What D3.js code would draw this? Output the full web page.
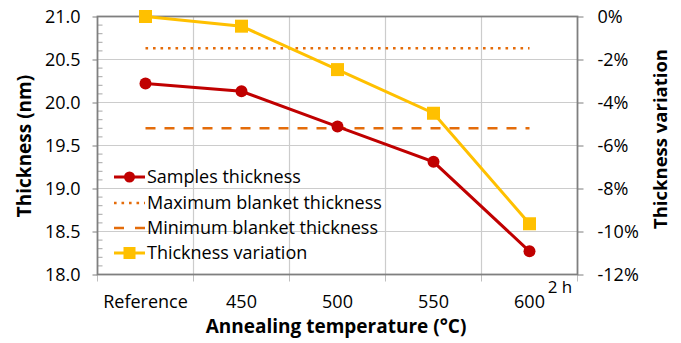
<!DOCTYPE html>
<html><head><meta charset="utf-8">
<script src="https://cdn.jsdelivr.net/npm/d3@7"></script>
<style>body{margin:0;background:#fff}svg{display:block}text{font-family:"Open Sans",sans-serif;fill:#000}</style>
</head><body>
<svg id="c" width="681" height="343"></svg>
<script>
const categories = ["Reference", "450", "500", "550", "600"];
const samplesThickness = [20.22, 20.13, 19.72, 19.31, 18.27];
const maxBlanket = 20.63;
const minBlanket = 19.70;
const thicknessVariation = [0, -0.45, -2.47, -4.50, -9.64];
const leftTicks = [18.0, 18.5, 19.0, 19.5, 20.0, 20.5, 21.0];
const rightTicks = [-12, -10, -8, -6, -4, -2, 0];
const legendLabels = ["Samples thickness", "Maximum blanket thickness", "Minimum blanket thickness", "Thickness variation"];

const svg = d3.select("#c");
const L = 97.5, R = 577.5, T = 16.5, B = 274.5;
const x = d3.scaleBand().domain(categories).range([L, R]).padding(0);
const yL = d3.scaleLinear().domain([18, 21]).range([B, T]);
const yR = d3.scaleLinear().domain([-12, 0]).range([B, T]);
const cx = d => x(d) + x.bandwidth() / 2;

const red = "#C00000", yellow = "#FFC000", orange = "#E46C0A";
const grid = "#cccccc", frame = "#7f7f7f";

// horizontal gridlines
svg.append("g").selectAll("line").data(leftTicks.slice(1, -1)).join("line")
  .attr("x1", L).attr("x2", R).attr("y1", d => yL(d)).attr("y2", d => yL(d))
  .attr("stroke", grid).attr("stroke-width", 1.2);
// vertical gridlines at band boundaries
svg.append("g").selectAll("line").data(categories.slice(1)).join("line")
  .attr("x1", d => x(d)).attr("x2", d => x(d)).attr("y1", T).attr("y2", B)
  .attr("stroke", grid).attr("stroke-width", 1.2);

// left axis
const gL = svg.append("g").attr("transform", `translate(${L},0)`)
  .call(d3.axisLeft(yL).tickValues(leftTicks).tickFormat(d3.format(".1f")).tickSize(5).tickPadding(12));
gL.select(".domain").remove();
gL.selectAll("line").attr("stroke", frame);
gL.selectAll("text").style("font-size", "18px").attr("fill", "#222");
// minor inward ticks
const minor = d3.range(181, 210).map(v => v / 10).filter(v => Math.abs(v * 2 - Math.round(v * 2)) > 1e-6);
svg.append("g").selectAll("line").data(minor).join("line")
  .attr("x1", L).attr("x2", L + 5).attr("y1", d => yL(d)).attr("y2", d => yL(d))
  .attr("stroke", "#a6a6a6").attr("stroke-width", 1);

// right axis
const gR = svg.append("g").attr("transform", `translate(${R},0)`)
  .call(d3.axisRight(yR).tickValues(rightTicks).tickFormat(d => d + "%").tickSize(6).tickPadding(14));
gR.select(".domain").remove();
gR.selectAll("line").attr("stroke", frame);
gR.selectAll("text").style("font-size", "18px").attr("fill", "#222");

// bottom axis
const gB = svg.append("g").attr("transform", `translate(0,${B})`)
  .call(d3.axisBottom(x).tickSize(0).tickPadding(21));
gB.select(".domain").remove();
gB.selectAll("text").style("font-size", "18px").attr("fill", "#222");
svg.append("g").selectAll("line").data(categories.concat(["_end"])).join("line")
  .attr("x1", d => d === "_end" ? R : x(d)).attr("x2", d => d === "_end" ? R : x(d))
  .attr("y1", B).attr("y2", B + 7).attr("stroke", "#bfbfbf").attr("stroke-width", 1);

// frame
svg.append("rect").attr("x", L).attr("y", T).attr("width", R - L).attr("height", B - T)
  .attr("fill", "none").attr("stroke", frame).attr("stroke-width", 1.8);

// blanket lines
const xs = [cx(categories[0]), cx(categories[categories.length - 1])];
svg.append("line").attr("x1", xs[0]).attr("x2", xs[1]).attr("y1", yL(maxBlanket)).attr("y2", yL(maxBlanket))
  .attr("stroke", orange).attr("stroke-width", 2.6).attr("stroke-dasharray", "2.6 4.9");
svg.append("line").attr("x1", xs[0]).attr("x2", xs[1]).attr("y1", yL(minBlanket)).attr("y2", yL(minBlanket))
  .attr("stroke", orange).attr("stroke-width", 2.6).attr("stroke-dasharray", "10 9");

// variation series
const lineV = d3.line().x((d, i) => cx(categories[i])).y(d => yR(d));
svg.append("path").datum(thicknessVariation).attr("d", lineV).attr("fill", "none")
  .attr("stroke", yellow).attr("stroke-width", 3);
svg.append("g").selectAll("rect").data(thicknessVariation).join("rect")
  .attr("x", (d, i) => cx(categories[i]) - 6.5).attr("y", d => yR(d) - 6.5)
  .attr("width", 13).attr("height", 13).attr("fill", yellow);

// samples series
const lineS = d3.line().x((d, i) => cx(categories[i])).y(d => yL(d));
svg.append("path").datum(samplesThickness).attr("d", lineS).attr("fill", "none")
  .attr("stroke", red).attr("stroke-width", 3);
svg.append("g").selectAll("circle").data(samplesThickness).join("circle")
  .attr("cx", (d, i) => cx(categories[i])).attr("cy", d => yL(d)).attr("r", 6).attr("fill", red);

// legend
const lg = svg.append("g");
const ly = [177, 203, 228, 253];
const lx1 = 114, lx2 = 145;
lg.append("line").attr("x1", lx1).attr("x2", lx2).attr("y1", ly[0]).attr("y2", ly[0]).attr("stroke", red).attr("stroke-width", 3);
lg.append("circle").attr("cx", (lx1 + lx2) / 2).attr("cy", ly[0]).attr("r", 5.5).attr("fill", red);
lg.append("line").attr("x1", lx1).attr("x2", lx2).attr("y1", ly[1]).attr("y2", ly[1]).attr("stroke", orange).attr("stroke-width", 2.6).attr("stroke-dasharray", "2.6 4.9");
lg.append("line").attr("x1", lx1).attr("x2", lx2).attr("y1", ly[2]).attr("y2", ly[2]).attr("stroke", orange).attr("stroke-width", 2.6).attr("stroke-dasharray", "10 11");
lg.append("line").attr("x1", lx1).attr("x2", lx2).attr("y1", ly[3]).attr("y2", ly[3]).attr("stroke", yellow).attr("stroke-width", 3);
lg.append("rect").attr("x", (lx1 + lx2) / 2 - 6).attr("y", ly[3] - 6).attr("width", 12).attr("height", 12).attr("fill", yellow);
lg.selectAll("text").data(legendLabels).join("text")
  .attr("x", 147).attr("y", (d, i) => ly[i]).attr("dy", "0.35em")
  .style("font-size", "18px").attr("fill", "#222").text(d => d);

// extra label
svg.append("text").attr("x", 560).attr("y", 293).attr("text-anchor", "middle")
  .style("font-size", "17px").attr("fill", "#222").text("2 h");

// titles
svg.append("text").attr("transform", "translate(31,146) rotate(-90)").attr("text-anchor", "middle")
  .style("font-size", "19px").style("font-weight", "bold").text("Thickness (nm)");
svg.append("text").attr("transform", "translate(667,139) rotate(-90)").attr("text-anchor", "middle")
  .style("font-size", "18.5px").style("font-weight", "bold").text("Thickness variation");
svg.append("text").attr("x", 336).attr("y", 333).attr("text-anchor", "middle")
  .style("font-size", "19px").style("font-weight", "bold").text("Annealing temperature (°C)");
</script>
</body></html>
